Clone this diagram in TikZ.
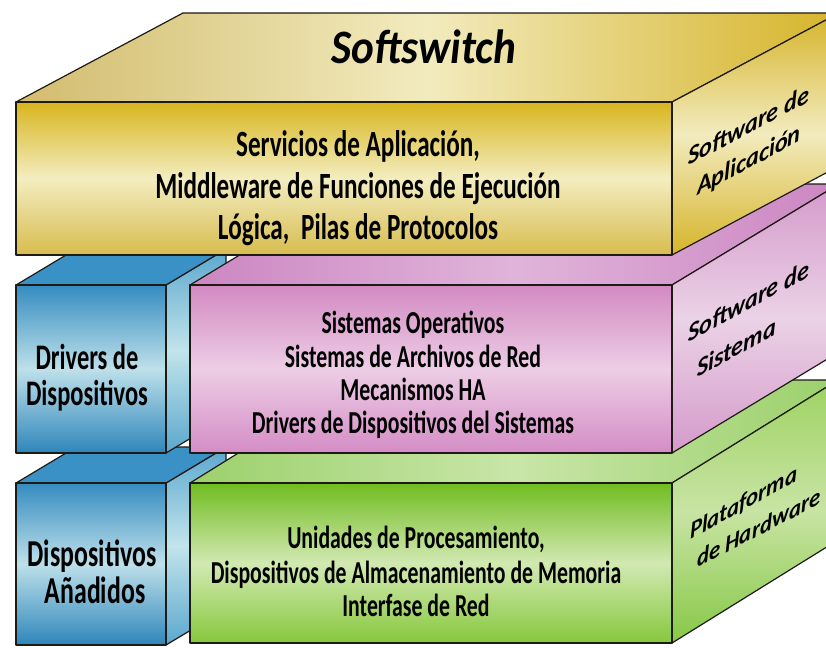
\documentclass[tikz,border=0pt]{standalone}
\usepackage{fontspec}
\setmainfont{Carlito}
\newfontfamily\condf[FakeStretch=0.68]{Carlito}
\newfontfamily\swf[FakeStretch=0.9]{Carlito}
\newfontfamily\sidef[FakeStretch=0.95]{Carlito}
\definecolor{edgec}{HTML}{1E1A14}
\definecolor{yTop}{HTML}{D8B51E}
\definecolor{yMid}{HTML}{F3EDC0}
\definecolor{yBot}{HTML}{D7BC4E}
\definecolor{yLid1}{HTML}{D2BC6E}
\definecolor{yLid2}{HTML}{F2EBBE}
\definecolor{yLid3}{HTML}{D6B42A}
\definecolor{pTop}{HTML}{D28AC2}
\definecolor{pMid}{HTML}{EDCDE5}
\definecolor{pBot}{HTML}{D48DC5}
\definecolor{pLid1}{HTML}{CC86C2}
\definecolor{pLid2}{HTML}{E0B4DA}
\definecolor{pSide1}{HTML}{D49ACB}
\definecolor{pSide2}{HTML}{EBD2E6}
\definecolor{gTop}{HTML}{70BC20}
\definecolor{gMid}{HTML}{D2E9B2}
\definecolor{gBot}{HTML}{86C83C}
\definecolor{gLid1}{HTML}{9CD06C}
\definecolor{gLid2}{HTML}{C8E6A8}
\definecolor{gSide1}{HTML}{9ED262}
\definecolor{gSide2}{HTML}{C8E4A4}
\definecolor{gSide3}{HTML}{86C846}
\definecolor{bTop}{HTML}{358CC0}
\definecolor{bMid}{HTML}{BEE0EA}
\definecolor{bBot}{HTML}{2E86BB}
\definecolor{bLid}{HTML}{3A91C5}
\definecolor{bSide1}{HTML}{5AA7CF}
\definecolor{bSide2}{HTML}{C2E4EA}
\begin{document}
\begin{tikzpicture}[x=1pt,y=1pt,
  face/.style={draw=edgec, line width=1.2pt, line join=round},
  maintext/.style={font=\condf\bfseries\fontsize{37}{40}\selectfont, text=black, inner sep=0pt, anchor=base},
  midtext/.style={font=\condf\bfseries\fontsize{32}{34}\selectfont, text=black, inner sep=0pt, anchor=base},
  bluetext/.style={font=\condf\bfseries\fontsize{36}{38}\selectfont, text=black, inner sep=0pt, anchor=base},
  sidetext/.style={font=\sidef\bfseries\itshape\fontsize{25.5}{27}\selectfont, text=black, inner sep=0pt, anchor=base west, transform shape}]
\useasboundingbox (0,0) rectangle (826,-647);
\clip (0,0) rectangle (826,-647);

% ---------- lower blue block ----------
\path[face, top color=bSide1, bottom color=bSide1, middle color=bSide2]
  (166,-483) -- (226,-447) -- (226,-609) -- (166,-645) -- cycle;
\path[face, fill=bLid] (16,-483) -- (76,-447) -- (226,-447) -- (166,-483) -- cycle;
\path[face, top color=bTop, bottom color=bBot, middle color=bMid] (16,-483) rectangle (166,-645);

% ---------- green block ----------
\path[face, left color=gLid1, right color=gLid1, middle color=gLid2]
  (190,-483) -- (356,-380) -- (838,-380) -- (672,-483) -- cycle;
\path[face, top color=gSide1, bottom color=gSide3, middle color=gSide2]
  (672,-483) -- (838,-380) -- (838,-540) -- (672,-643) -- cycle;
\path[face, top color=gTop, bottom color=gBot, middle color=gMid] (190,-483) rectangle (672,-643);

% ---------- upper blue block ----------
\path[face, top color=bSide1, bottom color=bSide1, middle color=bSide2]
  (166,-285) -- (226,-249) -- (226,-417) -- (166,-453) -- cycle;
\path[face, fill=bLid] (16,-285) -- (76,-249) -- (226,-249) -- (166,-285) -- cycle;
\path[face, top color=bTop, bottom color=bBot, middle color=bMid] (16,-285) rectangle (166,-453);

% ---------- pink block ----------
\path[face, left color=pLid1, right color=pLid1, middle color=pLid2]
  (190,-285) -- (357,-184) -- (839,-184) -- (672,-285) -- cycle;
\path[face, top color=pSide1, bottom color=pSide1, middle color=pSide2]
  (672,-285) -- (839,-184) -- (839,-352) -- (672,-453) -- cycle;
\path[face, top color=pTop, bottom color=pBot, middle color=pMid] (190,-285) rectangle (672,-453);

% ---------- yellow block ----------
\path[face, left color=yLid1, right color=yLid3, middle color=yLid2]
  (16,-102) -- (183,-13) -- (839,-13) -- (672,-102) -- cycle;
\path[face, top color=yLid3, bottom color=yLid3, middle color=yLid2]
  (672,-102) -- (839,-13) -- (839,-166) -- (672,-255) -- cycle;
\path[face, top color=yTop, bottom color=yBot, middle color=yMid] (16,-102) rectangle (672,-255);

% ---------- texts ----------
\node[font=\swf\bfseries\itshape\fontsize{48}{50}\selectfont, inner sep=0pt, anchor=base] (title) at (424,-64) {Softswitch};

\node[maintext] (y1) at (358,-157) {Servicios de Aplicación,};
\node[maintext] (y2) at (358,-198) {Middleware de Funciones de Ejecución};
\node[maintext] (y3) at (358,-239) {Lógica,\, Pilas de Protocolos};

\node[midtext] (p1) at (413,-333) {Sistemas Operativos};
\node[midtext] (p2) at (413,-367) {Sistemas de Archivos de Red};
\node[midtext] (p3) at (413,-400) {Mecanismos HA};
\node[midtext] (p4) at (413,-433) {Drivers de Dispositivos del Sistemas};

\node[midtext] (g1) at (416,-548) {Unidades de Procesamiento,};
\node[midtext] (g2) at (416,-583) {Dispositivos de Almacenamiento de Memoria};
\node[midtext] (g3) at (416,-616) {Interfase de Red};

\node[bluetext] (b1) at (87,-369) {Drivers de};
\node[bluetext] (b2) at (87,-405) {Dispositivos};
\node[bluetext, font=\condf\bfseries\fontsize{38}{40}\selectfont] (b3) at (92,-566) {Dispositivos};
\node[bluetext, font=\condf\bfseries\fontsize{38}{40}\selectfont] (b4) at (95,-603) {Añadidos};

\begin{scope}[shift={(688,-166)}, yslant=0.53]
  \node[sidetext] (s1) at (0,0) {Software de};
\end{scope}
\begin{scope}[shift={(697,-196)}, yslant=0.53]
  \node[sidetext] (s2) at (0,0) {Aplicación};
\end{scope}
\begin{scope}[shift={(688,-343)}, yslant=0.55]
  \node[sidetext] (s3) at (0,0) {Software de};
\end{scope}
\begin{scope}[shift={(697,-378)}, yslant=0.55]
  \node[sidetext] (s4) at (0,0) {Sistema};
\end{scope}
\begin{scope}[shift={(690,-540)}, yslant=0.55]
  \node[sidetext, font=\sidef\bfseries\itshape\fontsize{24}{26}\selectfont] (s5) at (0,0) {Plataforma};
\end{scope}
\begin{scope}[shift={(697,-568)}, yslant=0.52]
  \node[sidetext, font=\sidef\bfseries\itshape\fontsize{24}{26}\selectfont] (s6) at (0,0) {de Hardware};
\end{scope}
\end{tikzpicture}
\end{document}
